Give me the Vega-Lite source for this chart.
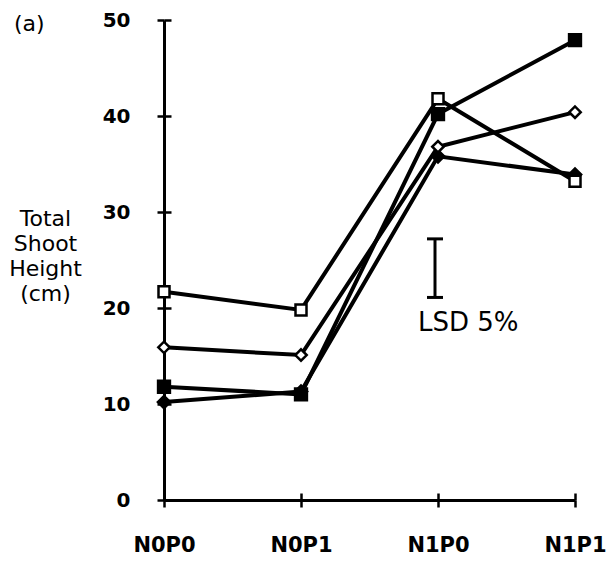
{
  "$schema": "https://vega.github.io/schema/vega-lite/v6.json",
  "width": 411,
  "height": 480,
  "autosize": {"type": "none"},
  "padding": {"left": 164, "top": 20, "right": 37, "bottom": 72},
  "background": "white",
  "config": {
    "view": {"stroke": null},
    "axis": {"grid": false, "domainColor": "black", "tickColor": "black", "labelColor": "black", "titleColor": "black"}
  },
  "title": {
    "text": "(a)",
    "anchor": "start",
    "frame": "group",
    "orient": "top",
    "offset": 0,
    "baseline": "alphabetic",
    "dx": -150,
    "dy": 43,
    "font": "DejaVu Sans",
    "fontSize": 22,
    "fontWeight": "normal",
    "color": "black"
  },
  "datasets": {
    "heights": [
      {"series": "D", "treatment": "N0P0", "height": 10.2},
      {"series": "D", "treatment": "N0P1", "height": 11.3},
      {"series": "D", "treatment": "N1P0", "height": 35.8},
      {"series": "D", "treatment": "N1P1", "height": 33.9},
      {"series": "B", "treatment": "N0P0", "height": 15.9},
      {"series": "B", "treatment": "N0P1", "height": 15.1},
      {"series": "B", "treatment": "N1P0", "height": 36.8},
      {"series": "B", "treatment": "N1P1", "height": 40.4},
      {"series": "C", "treatment": "N0P0", "height": 11.8},
      {"series": "C", "treatment": "N0P1", "height": 11.0},
      {"series": "C", "treatment": "N1P0", "height": 40.2},
      {"series": "C", "treatment": "N1P1", "height": 47.9},
      {"series": "A", "treatment": "N0P0", "height": 21.7},
      {"series": "A", "treatment": "N0P1", "height": 19.8},
      {"series": "A", "treatment": "N1P0", "height": 41.8},
      {"series": "A", "treatment": "N1P1", "height": 33.2}
    ],
    "lsd": [
      {"treatment": "N1P0", "lo": 21.1, "hi": 27.2, "label": "LSD 5%"}
    ]
  },
  "layer": [
    {
      "data": {"name": "heights"},
      "mark": {"type": "line", "stroke": "black", "strokeWidth": 4},
      "encoding": {
        "x": {
          "field": "treatment", "type": "ordinal",
          "sort": ["N0P0", "N0P1", "N1P0", "N1P1"],
          "scale": {"type": "point", "padding": 0},
          "axis": {
            "title": null, "orient": "bottom", "labelAngle": 0,
            "domainWidth": 3, "tickSize": 7, "tickWidth": 2.5,
            "labelFont": "DejaVu Sans", "labelFontSize": 21, "labelFontWeight": "bold",
            "labelPadding": 27
          }
        },
        "y": {
          "field": "height", "type": "quantitative",
          "scale": {"domain": [0, 50], "nice": false},
          "axis": {
            "orient": "left",
            "values": [0, 10, 20, 30, 40, 50],
            "title": ["Total", "Shoot", "Height", "(cm)"],
            "titleAngle": 0, "titleAlign": "center", "titleBaseline": "alphabetic",
            "titleX": -119, "titleY": 205, "titleLineHeight": 25,
            "titleFont": "DejaVu Sans", "titleFontSize": 22, "titleFontWeight": "normal",
            "labelFont": "DejaVu Sans", "labelFontSize": 20, "labelFontWeight": "bold",
            "labelPadding": 27, "tickSize": 7, "tickWidth": 2.5, "domainWidth": 3
          }
        },
        "detail": {"field": "series"}
      }
    },
    {
      "data": {"name": "heights"},
      "mark": {"type": "point", "filled": true, "stroke": "black", "strokeWidth": 2.5, "opacity": 1},
      "encoding": {
        "x": {
          "field": "treatment", "type": "ordinal",
          "sort": ["N0P0", "N0P1", "N1P0", "N1P1"],
          "axis": {"orient": "bottom", "offset": -7, "domain": false, "labels": false, "tickSize": 7, "tickWidth": 2.5, "title": null}
        },
        "y": {
          "field": "height", "type": "quantitative",
          "axis": {"orient": "left", "offset": -7, "domain": false, "labels": false, "tickSize": 7, "tickWidth": 2.5, "title": null, "values": [0, 10, 20, 30, 40, 50]}
        },
        "shape": {"field": "series", "scale": {"domain": ["A", "B", "C", "D"], "range": ["square", "diamond", "square", "diamond"]}, "legend": null},
        "fill": {"field": "series", "scale": {"domain": ["A", "B", "C", "D"], "range": ["white", "white", "black", "black"]}, "legend": null},
        "size": {"field": "series", "scale": {"domain": ["A", "B", "C", "D"], "range": [121, 150, 156, 130]}, "legend": null}
      }
    },
    {
      "data": {"name": "lsd"},
      "mark": {"type": "rule", "color": "black", "strokeWidth": 3, "xOffset": -3},
      "encoding": {
        "x": {"field": "treatment", "type": "ordinal", "axis": null},
        "y": {"field": "lo", "type": "quantitative", "axis": null},
        "y2": {"field": "hi"}
      }
    },
    {
      "data": {"name": "lsd"},
      "mark": {"type": "tick", "orient": "horizontal", "color": "black", "size": 16, "thickness": 3, "xOffset": -3, "opacity": 1},
      "encoding": {
        "x": {"field": "treatment", "type": "ordinal", "axis": null},
        "y": {"field": "lo", "type": "quantitative", "axis": null}
      }
    },
    {
      "data": {"name": "lsd"},
      "mark": {"type": "tick", "orient": "horizontal", "color": "black", "size": 16, "thickness": 3, "xOffset": -3, "opacity": 1},
      "encoding": {
        "x": {"field": "treatment", "type": "ordinal", "axis": null},
        "y": {"field": "hi", "type": "quantitative", "axis": null}
      }
    },
    {
      "data": {"name": "lsd"},
      "mark": {"type": "text", "align": "left", "baseline": "top", "dx": -20, "dy": 13, "font": "DejaVu Sans", "fontSize": 26, "color": "black"},
      "encoding": {
        "x": {"field": "treatment", "type": "ordinal", "axis": null},
        "y": {"field": "lo", "type": "quantitative", "axis": null},
        "text": {"field": "label"}
      }
    }
  ],
  "resolve": {"axis": {"x": "independent", "y": "independent"}}
}
